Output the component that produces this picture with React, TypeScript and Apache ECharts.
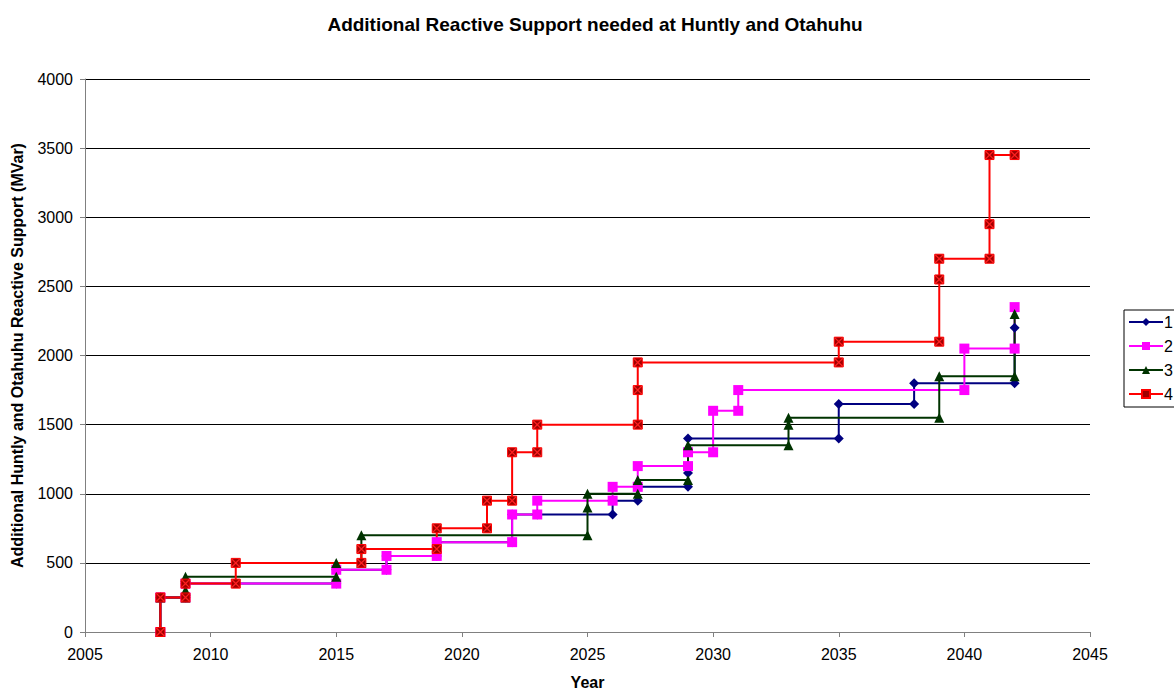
import React, { useEffect, useRef } from "react";
import * as echarts from "echarts";

const seriesNames = ["1", "2", "3", "4"];

const years1 = [2008, 2008, 2009, 2009, 2015, 2015, 2017, 2017, 2019, 2019, 2022, 2022, 2023, 2026, 2026, 2027, 2027, 2029, 2029, 2029, 2035, 2035, 2038, 2038, 2042, 2042];
const values1 = [0, 250, 250, 350, 350, 450, 450, 550, 550, 650, 650, 850, 850, 850, 950, 950, 1050, 1050, 1150, 1400, 1400, 1650, 1650, 1800, 1800, 2200];

const years2 = [2008, 2008, 2009, 2009, 2015, 2015, 2017, 2017, 2019, 2019, 2022, 2022, 2023, 2023, 2026, 2026, 2027, 2027, 2029, 2029, 2030, 2030, 2031, 2031, 2040, 2040, 2042, 2042];
const values2 = [0, 250, 250, 350, 350, 450, 450, 550, 550, 650, 650, 850, 850, 950, 950, 1050, 1050, 1200, 1200, 1300, 1300, 1600, 1600, 1750, 1750, 2050, 2050, 2350];

const years3 = [2008, 2008, 2009, 2009, 2009, 2015, 2015, 2016, 2016, 2025, 2025, 2025, 2027, 2027, 2029, 2029, 2033, 2033, 2033, 2039, 2039, 2042, 2042];
const values3 = [0, 250, 250, 300, 400, 400, 500, 500, 700, 700, 900, 1000, 1000, 1100, 1100, 1350, 1350, 1500, 1550, 1550, 1850, 1850, 2300];

const years4 = [2008, 2008, 2009, 2009, 2011, 2011, 2016, 2016, 2019, 2019, 2021, 2021, 2022, 2022, 2023, 2023, 2027, 2027, 2027, 2035, 2035, 2039, 2039, 2039, 2041, 2041, 2041, 2042];
const values4 = [0, 250, 250, 350, 350, 500, 500, 600, 600, 750, 750, 950, 950, 1300, 1300, 1500, 1500, 1750, 1950, 1950, 2100, 2100, 2550, 2700, 2700, 2950, 3450, 3450];

const xTicks = [2005, 2010, 2015, 2020, 2025, 2030, 2035, 2040, 2045];
const yTicks = [0, 500, 1000, 1500, 2000, 2500, 3000, 3500, 4000];

const FONT = "'Liberation Sans', Arial, sans-serif";

const xCross = "path://M0,1 L1,0 L10,9 L9,10 Z M9,0 L10,1 L1,10 L0,9 Z";

function pairs(xs: number[], ys: number[]) {
  return xs.map((x, i) => [x, ys[i]]);
}

export default function App() {
  const ref = useRef<HTMLDivElement>(null);
  useEffect(() => {
    if (!ref.current) return;
    const chart = echarts.init(ref.current, undefined, { renderer: "svg" });
    const mk = (
      name: string,
      xs: number[],
      ys: number[],
      color: string,
      symbol: string,
      symbolSize: number,
      itemStyle: any
    ) => ({
      name,
      type: "line",
      data: pairs(xs, ys),
      symbol,
      symbolSize,
      showAllSymbol: true,
      lineStyle: { color, width: 2 },
      itemStyle,
      emphasis: { disabled: true },
    });
    chart.setOption({
      animation: false,
      backgroundColor: "#ffffff",
      title: {
        text: "Additional Reactive Support needed at Huntly and Otahuhu",
        left: 590,
        textAlign: "center",
        top: 10,
        textStyle: { fontFamily: FONT, fontSize: 19, fontWeight: "bold", color: "#000" },
      },
      grid: { left: 85, right: 84, top: 79, bottom: 58, containLabel: false },
      legend: {
        orient: "vertical",
        left: 1124,
        top: 310,
        padding: [4, 10, 5, 4],
        itemGap: 8,
        itemWidth: 34,
        itemHeight: 10,
        borderColor: "#000",
        borderWidth: 1,
        borderRadius: 0,
        backgroundColor: "#fff",
        textStyle: { fontFamily: FONT, fontSize: 16, color: "#000", padding: [0, 0, 0, -4] },
        data: seriesNames,
      },
      xAxis: {
        type: "value",
        min: 2005,
        max: 2045,
        interval: 5,
        name: "Year",
        nameLocation: "middle",
        nameGap: 42,
        nameTextStyle: { fontFamily: FONT, fontSize: 16, fontWeight: "bold", color: "#000" },
        axisLine: { show: true, onZero: false, lineStyle: { color: "#808080", width: 1 } },
        axisTick: { show: true, length: 5, lineStyle: { color: "#808080" } },
        axisLabel: {
          fontFamily: FONT,
          fontSize: 16,
          color: "#000",
          margin: 14,
          formatter: (v: number) => (xTicks.includes(v) ? String(v) : ""),
        },
        splitLine: { show: false },
      },
      yAxis: {
        type: "value",
        min: 0,
        max: 4000,
        interval: 500,
        name: "Additional Huntly and Otahuhu Reactive Support (MVar)",
        nameLocation: "middle",
        nameGap: 60,
        nameTextStyle: { fontFamily: FONT, fontSize: 16, fontWeight: "bold", color: "#000" },
        axisLine: { show: true, lineStyle: { color: "#808080", width: 1 } },
        axisTick: { show: true, length: 5, lineStyle: { color: "#808080" } },
        axisLabel: {
          fontFamily: FONT,
          fontSize: 16,
          color: "#000",
          margin: 12,
          formatter: (v: number) => (yTicks.includes(v) ? String(v) : ""),
        },
        splitLine: { show: true, lineStyle: { color: "#000", width: 1 } },
      },
      series: [
        mk(seriesNames[0], years1, values1, "#000080", "diamond", 10, { color: "#000080" }),
        mk(seriesNames[1], years2, values2, "#FF00FF", "rect", 10, { color: "#FF00FF" }),
        mk(seriesNames[2], years3, values3, "#003300", "triangle", 10, { color: "#003300" }),
        mk(seriesNames[3], years4, values4, "#FF0000", "rect", 9, {
          color: "#A00000",
          borderColor: "#FF0000",
          borderWidth: 1,
        }),
        {
          name: "4x",
          type: "line",
          data: pairs(years4, values4),
          symbol: xCross,
          symbolSize: 9,
          showAllSymbol: true,
          lineStyle: { width: 0, opacity: 0 },
          itemStyle: { color: "#FF2020" },
          emphasis: { disabled: true },
          silent: true,
        },
      ],
    });
    return () => chart.dispose();
  }, []);
  return (
    <div
      ref={ref}
      style={{ position: "fixed", left: 0, top: 0, width: 1174, height: 695, background: "#fff" }}
    />
  );
}
